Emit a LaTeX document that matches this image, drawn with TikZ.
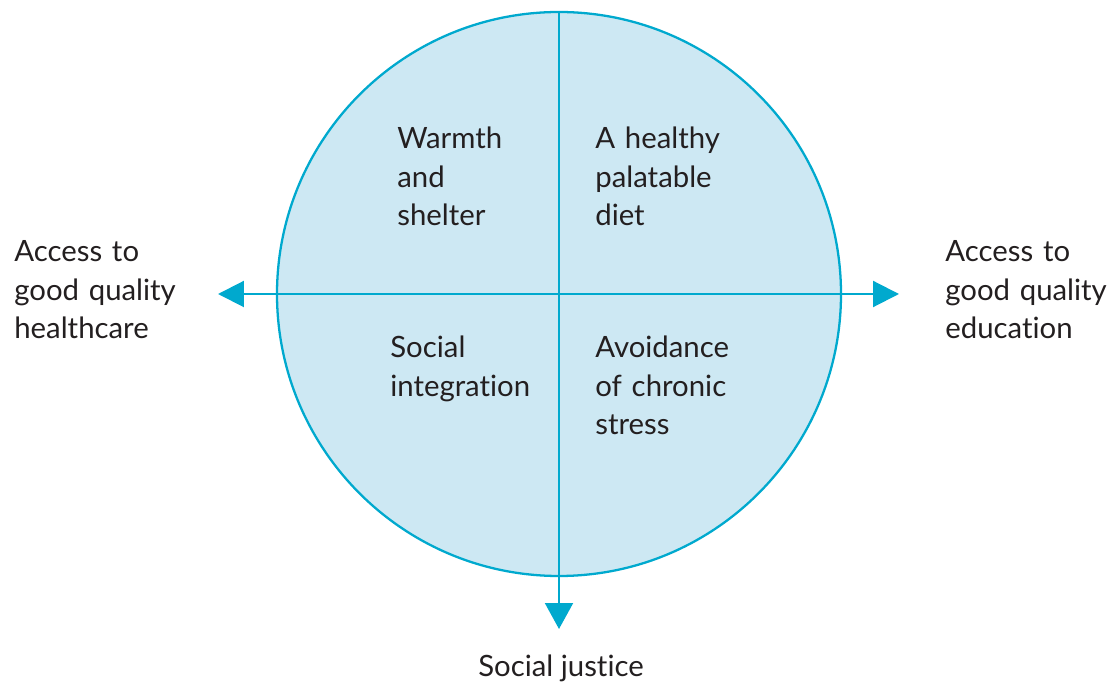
\documentclass[tikz,border=0pt]{standalone}
\usepackage{fontspec}
\setmainfont{Lato}[Ligatures=NoCommon]
\usetikzlibrary{arrows.meta}

\definecolor{wheelLine}{HTML}{00A9CE}
\definecolor{wheelFill}{HTML}{CDE8F3}
\definecolor{ink}{HTML}{231F20}

\tikzset{
  label text/.style={font=\fontsize{16.7}{21.9}\selectfont,text=ink,align=left,
    text width=4cm,anchor=base west,inner sep=0pt},
  axis/.style={wheelLine,line width=1.2pt},
}

\begin{document}
\begin{tikzpicture}[x=0.02cm,y=-0.02cm]
  \useasboundingbox (0,0) rectangle (1112,688);
  % the wheel and its four quarters
  \node[circle,draw=wheelLine,fill=wheelFill,line width=1.3pt,
        minimum size=564*0.02cm,inner sep=0pt] (wheel) at (559,294) {};
  \coordinate (leftTip) at (218,294);
  \coordinate (rightTip) at (899,294);
  \coordinate (downTip) at (559,629);
  \draw[axis,-{Triangle[length=0.52cm,width=0.52cm]}] (wheel.center) -- (leftTip);
  \draw[axis,-{Triangle[length=0.52cm,width=0.52cm]}] (wheel.center) -- (rightTip);
  \draw[axis,-{Triangle[length=0.52cm,width=0.56cm]}] (wheel.north) -- (downTip);
  % quarter labels
  \node[label text] (warmth) at (397,149) {Warmth\\and\\shelter};
  \node[label text] (diet) at (595,149) {A healthy\\palatable\\diet};
  \node[label text] (social) at (390,358) {Social\\integration};
  \node[label text] (stress) at (595,358) {Avoidance\\of chronic\\stress};
  % outer labels
  \node[label text] (health) at (14,262) {Access to\\good quality\\healthcare};
  \node[label text] (educ) at (945,262) {Access to\\good quality\\education};
  \node[label text,text width=,align=center,anchor=base] (justice) at (561,677) {Social justice};
\end{tikzpicture}
\end{document}
